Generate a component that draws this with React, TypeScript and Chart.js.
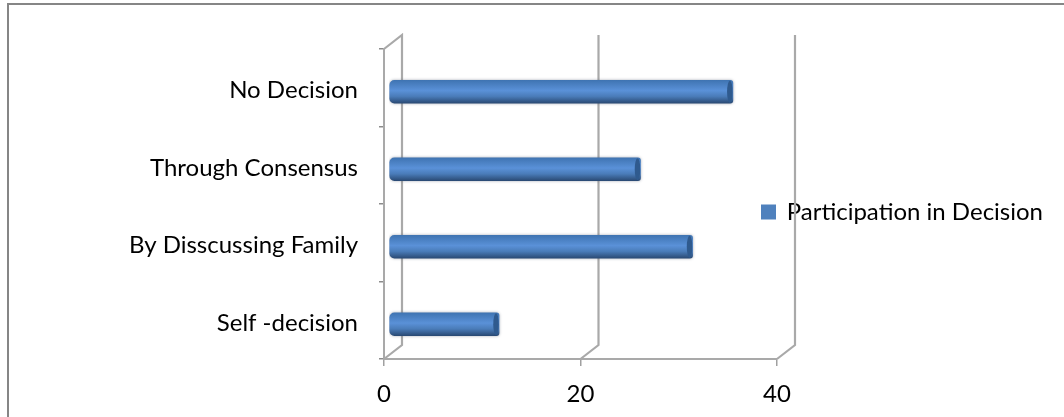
import React, { useEffect, useRef } from "react";
import { Chart, registerables } from "chart.js";

Chart.register(...registerables);

const categories = ["No Decision", "Through Consensus", "By Disscussing Family", "Self -decision"];
const seriesName = "Participation in Decision";
const values = [35, 25.6, 30.9, 11.2];
const FONT = "Lato";

const DEPTH_X = 18;
const DEPTH_Y = -14;
const BAR_DX = 5;
const BAR_DY = 4;
const BAR_H = 23;

const threeD = {
  id: "threeD",
  afterLayout(chart: any) {
    const l = chart.legend;
    l.left = 751;
    l.right = 1043;
    l.top = 190;
    l.bottom = 230;
  },
  beforeDraw(chart: any) {
    const { ctx, width, height } = chart;
    ctx.save();
    ctx.fillStyle = "#ffffff";
    ctx.fillRect(0, 0, width, height);
    ctx.strokeStyle = "#868686";
    ctx.lineWidth = 2;
    ctx.beginPath();
    ctx.moveTo(8, height + 5);
    ctx.lineTo(8, 4);
    ctx.lineTo(width + 5, 4);
    ctx.stroke();
    ctx.restore();
  },
  beforeDatasetsDraw(chart: any) {
    const { ctx, chartArea, scales } = chart;
    const top = chartArea.top;
    const bottom = chartArea.bottom;
    ctx.save();
    ctx.strokeStyle = "#a9a9a9";
    ctx.lineWidth = 2.2;
    ctx.lineJoin = "miter";
    scales.x.ticks.forEach((t: any, i: number) => {
      const x = scales.x.getPixelForValue(t.value);
      ctx.beginPath();
      if (i === 0) ctx.moveTo(x, top);
      else ctx.moveTo(x + DEPTH_X, top + DEPTH_Y);
      ctx.lineTo(x + DEPTH_X, top + DEPTH_Y);
      ctx.lineTo(x + DEPTH_X, bottom + DEPTH_Y);
      ctx.lineTo(x, bottom);
      ctx.stroke();
    });
    ctx.restore();
    ctx.save();
    ctx.translate(BAR_DX, BAR_DY);
    ctx.shadowColor = "rgba(90,100,120,0.55)";
    ctx.shadowBlur = 3;
  },
  afterDatasetsDraw(chart: any) {
    const { ctx } = chart;
    ctx.shadowColor = "transparent";
    chart.getDatasetMeta(0).data.forEach((el: any) => {
      ctx.beginPath();
      ctx.ellipse(el.x - 3, el.y, 2.8, BAR_H / 2 - 0.5, 0, 0, Math.PI * 2);
      ctx.fillStyle = "#2f5a8e";
      ctx.fill();
    });
    ctx.restore();
  },
};

export default function App() {
  const ref = useRef<HTMLCanvasElement>(null);
  useEffect(() => {
    const chart = new Chart(ref.current as HTMLCanvasElement, {
      type: "bar",
      data: {
        labels: categories,
        datasets: [
          {
            label: seriesName,
            data: values,
            barThickness: BAR_H,
            borderSkipped: false,
            borderWidth: 0,
            borderRadius: { topLeft: 5, bottomLeft: 5, topRight: 3, bottomRight: 3 },
            backgroundColor: (c: any) => {
              if (c.type !== "data") return "#4f81bd";
              const y = c.chart.scales.y?.getPixelForValue(c.dataIndex);
              if (!Number.isFinite(y)) return "#4f81bd";
              const g = c.chart.ctx.createLinearGradient(0, y - BAR_H / 2, 0, y + BAR_H / 2);
              g.addColorStop(0, "#3f74b2");
              g.addColorStop(0.45, "#5a91d8");
              g.addColorStop(0.7, "#4a7cb9");
              g.addColorStop(1, "#2a4a74");
              return g;
            },
          },
        ],
      },
      options: {
        indexAxis: "y",
        responsive: false,
        animation: false,
        devicePixelRatio: 1,
        layout: { padding: { left: 0, right: 287, top: 49, bottom: 0 }, autoPadding: false },
        scales: {
          x: {
            min: 0,
            max: 40,
            afterFit: (s: any) => { s.height = 58; },
            ticks: { stepSize: 20, color: "#000", font: { family: FONT, size: 24 }, padding: 14, maxRotation: 0 },
            grid: { drawOnChartArea: false, drawTicks: true, tickLength: 7, color: "#a0a0a0", lineWidth: 1.5 },
            border: { color: "#a9a9a9", width: 2 },
          },
          y: {
            afterFit: (s: any) => { s.width = 384; },
            ticks: { color: "#000", font: { family: FONT, size: 24 }, padding: 21, autoSkip: false, labelOffset: 3 },
            grid: { offset: true, drawOnChartArea: false, drawTicks: true, tickLength: 5, color: "#8c8c8c", lineWidth: 1.5 },
            border: { color: "#a9a9a9", width: 2 },
          },
        },
        plugins: {
          tooltip: { enabled: false },
          title: { display: false },
          legend: {
            position: "chartArea",
            align: "start",
            labels: {
              boxWidth: 15,
              boxHeight: 15,
              color: "#000",
              font: { family: FONT, size: 24 },
              padding: 10,
              textAlign: "right",
              generateLabels: (ch: any) =>
                ch.data.datasets.map((d: any, i: number) => ({
                  text: d.label,
                  fillStyle: "#4f81bd",
                  strokeStyle: "#4f81bd",
                  lineWidth: 0,
                  hidden: false,
                  datasetIndex: i,
                  fontColor: "#000",
                })),
            },
          },
        },
      },
      plugins: [threeD],
    } as any);
    return () => chart.destroy();
  }, []);
  return (
    <div style={{ position: "fixed", inset: 0, overflow: "hidden", background: "#fff" }}>
      <canvas ref={ref} width={1064} height={417} style={{ display: "block", filter: "blur(0.5px)" }} />
    </div>
  );
}
